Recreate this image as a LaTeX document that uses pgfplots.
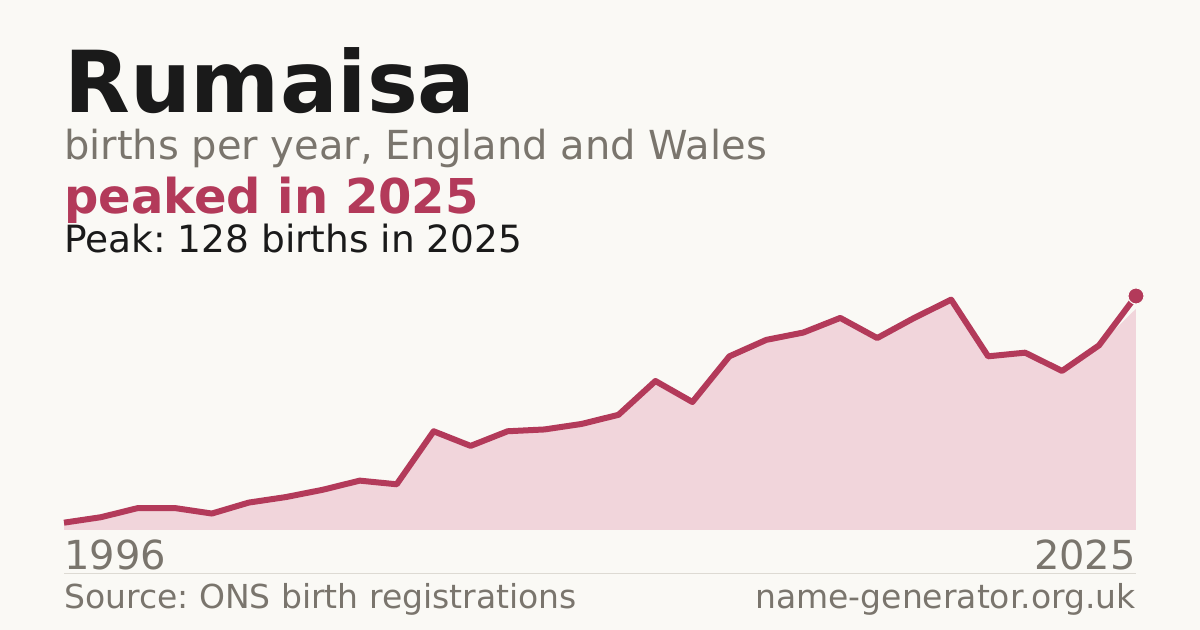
\documentclass[border=0pt]{standalone}
\usepackage{pgfplots}
\pgfplotsset{compat=1.18}
\usepackage{fontspec}
\setmainfont{DejaVu Sans}
\frenchspacing
\definecolor{bg}{HTML}{FAF9F5}
\definecolor{ink}{HTML}{1A1A1A}
\definecolor{muted}{HTML}{7A756D}
\definecolor{accent}{HTML}{B33A5A}
\definecolor{areafill}{HTML}{F1D5DB}
\definecolor{rule}{HTML}{DDDAD3}
\begin{document}
\begin{tikzpicture}[x=1bp,y=1bp]
% page background
\fill[bg] (0,0) rectangle (1200,630);

% headings
\node[anchor=base west,inner sep=0pt,text=ink] at (64,517)
  {\fontsize{85.5bp}{86bp}\selectfont\bfseries Rumaisa};
\node[anchor=base west,inner sep=0pt,text=muted] at (64,470)
  {\fontsize{40bp}{40bp}\selectfont births per year, England and Wales};
\node[anchor=base west,inner sep=0pt,text=accent] at (64,416)
  {\fontsize{48bp}{48bp}\selectfont\bfseries peaked in 2025};
\node[anchor=base west,inner sep=0pt,text=ink] at (64,377)
  {\fontsize{37.5bp}{38bp}\selectfont Peak: 128 births in 2025};

\begin{axis}[
    at={(64bp,100bp)}, anchor=south west,
    scale only axis,
    width=1072bp, height=234bp,
    xmin=1996, xmax=2025,
    ymin=0, ymax=128,
    axis lines=none,
    ticks=none,
    clip=false,
]
\addplot[draw=none, fill=areafill] coordinates {
(1996,4) (1997,7) (1998,12) (1999,12) (2000,9) (2001,15) (2002,18)
(2003,22) (2004,27) (2005,25) (2006,54) (2007,46) (2008,54) (2009,55)
(2010,58) (2011,63) (2012,81.5) (2013,70) (2014,95) (2015,104)
(2016,108) (2017,116) (2018,105) (2019,116) (2020,126) (2021,95)
(2022,97) (2023,87) (2024,101) (2025,121)
} \closedcycle;
\addplot[accent, line width=6bp, line join=round] coordinates {
(1996,4) (1997,7) (1998,12) (1999,12) (2000,9) (2001,15) (2002,18)
(2003,22) (2004,27) (2005,25) (2006,54) (2007,46) (2008,54) (2009,55)
(2010,58) (2011,63) (2012,81.5) (2013,70) (2014,95) (2015,104)
(2016,108) (2017,116) (2018,105) (2019,116) (2020,126) (2021,95)
(2022,97) (2023,87) (2024,101) (2025,128)
};
\addplot[only marks, mark=*, mark size=8bp, accent, draw=bg, line width=1bp] coordinates {(2025,128)};
\end{axis}

% year labels and footer
\node[anchor=base west,inner sep=0pt,text=muted] at (64,60)
  {\fontsize{40bp}{40bp}\selectfont 1996};
\node[anchor=base east,inner sep=0pt,text=muted] at (1136,60)
  {\fontsize{40bp}{40bp}\selectfont 2025};
\draw[rule, line width=1bp] (64,56) -- (1136,56);
\node[anchor=base west,inner sep=0pt,text=muted] at (64,21)
  {\fontsize{33bp}{33bp}\selectfont Source: ONS birth registrations};
\node[anchor=base east,inner sep=0pt,text=muted] at (1136,21)
  {\fontsize{33bp}{33bp}\selectfont name-generator.org.uk};
\end{tikzpicture}
\end{document}
